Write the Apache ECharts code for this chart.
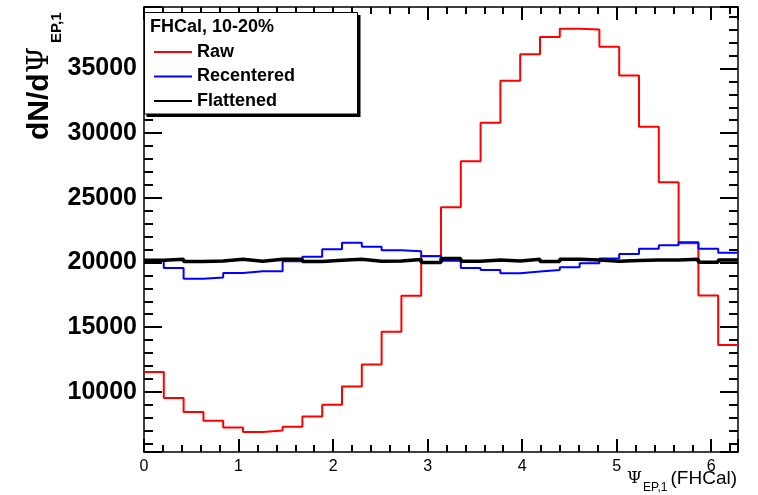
<!DOCTYPE html>
<html>
<head>
<meta charset="utf-8">
<script src="https://cdn.jsdelivr.net/npm/echarts@6/dist/echarts.min.js"></script>
<style>
html,body{margin:0;padding:0;background:#fff;}
#chart{width:758px;height:495px;}
</style>
</head>
<body>
<div id="chart"></div>
<script>
// ---- data ----
const binCount = 30;
const xMin = 0;
const xMax = 2 * Math.PI;
const xTickLabels = ['0', '1', '2', '3', '4', '5', '6'];
const yTickLabels = ['10000', '15000', '20000', '25000', '30000', '35000'];
const seriesNames = ['Raw', 'Recentered', 'Flattened'];
const rawCounts = [11530, 9520, 8440, 7760, 7250, 6890, 7020, 7300, 8100, 9000,
  10410, 12110, 14640, 17420, 20510, 24270, 27820, 30800, 34040, 36100,
  37440, 38060, 38010, 36670, 34460, 30490, 26200, 21490, 17440, 13630];
const recenteredCounts = [20140, 19580, 18750, 18830, 19190, 19320, 19320, 20100, 20450, 21020,
  21530, 21220, 20950, 20870, 20480, 20140, 19580, 19420, 19170, 19300,
  19420, 19630, 19940, 20300, 20660, 21070, 21330, 21560, 21070, 20760];
const flattenedCounts = [20170, 20250, 20070, 20120, 20250, 20100, 20250, 20250, 20070, 20170,
  20250, 20100, 20120, 20230, 19990, 20300, 20100, 20200, 20120, 20250,
  20070, 20250, 20200, 20100, 20150, 20200, 20200, 20250, 20020, 20200];
const yMin = 5350;
const yMax = 39750;

// histogram step data: bin low edges + final upper edge
function histData(counts) {
  const w = (xMax - xMin) / binCount;
  const d = counts.map((v, i) => [xMin + i * w, v]);
  d.push([xMax, counts[counts.length - 1]]);
  return d;
}

const FONT = 'Liberation Sans, Arial, Helvetica, sans-serif';
const chart = echarts.init(document.getElementById('chart'), null, {renderer: 'canvas'});

const xCommon = {
  type: 'value', min: xMin, max: xMax, interval: 1,
  axisLine: {show: true, onZero: false, lineStyle: {color: '#000', width: 1.5}},
  axisTick: {show: true, inside: true, length: 13, lineStyle: {color: '#000', width: 2}},
  minorTick: {show: true, splitNumber: 5, length: 7, lineStyle: {color: '#000', width: 2}},
  splitLine: {show: false}
};
const yCommon = {
  type: 'value', min: yMin, max: yMax,
  axisLine: {show: true, onZero: false, lineStyle: {color: '#000', width: 1.5}},
  axisTick: {show: true, inside: true, length: 18, lineStyle: {color: '#000', width: 2}},
  minorTick: {show: true, splitNumber: 5, length: 9, lineStyle: {color: '#000', width: 2}},
  splitLine: {show: false}
};

chart.setOption({
  animation: false,
  backgroundColor: '#fff',
  grid: {left: 144, right: 20, top: 7, bottom: 43, containLabel: false},
  xAxis: [
    Object.assign({}, xCommon, {
      position: 'bottom',
      axisLabel: {
        show: true, margin: 7, color: '#000', fontFamily: FONT, fontSize: 16,
        showMaxLabel: false,
        formatter: v => { const s = String(v); return xTickLabels.indexOf(s) >= 0 ? s : ''; }
      }
    }),
    Object.assign({}, xCommon, {position: 'top', axisLabel: {show: false}})
  ],
  yAxis: [
    Object.assign({}, yCommon, {
      position: 'left',
      axisLabel: {
        show: true, margin: 7, color: '#000', fontFamily: FONT, fontSize: 25, fontWeight: 'bold',
        showMinLabel: false, showMaxLabel: false,
        formatter: v => { const s = String(v); return yTickLabels.indexOf(s) >= 0 ? s : ''; }
      }
    }),
    Object.assign({}, yCommon, {position: 'right', axisLabel: {show: false}})
  ],
  legend: {
    show: true, orient: 'vertical', left: 153, top: 43, padding: 0,
    itemWidth: 38, itemHeight: 14, itemGap: 6.5, z: 12,
    data: seriesNames,
    itemStyle: {opacity: 0},
    textStyle: {fontFamily: FONT, fontSize: 18, fontWeight: 'bold', color: '#000'}
  },
  series: [
    {name: seriesNames[0], type: 'line', step: 'end', symbol: 'none', showSymbol: false,
     xAxisIndex: 0, yAxisIndex: 0, data: histData(rawCounts),
     lineStyle: {color: '#ff0000', width: 2}, itemStyle: {color: '#ff0000'}},
    {name: seriesNames[1], type: 'line', step: 'end', symbol: 'none', showSymbol: false,
     xAxisIndex: 0, yAxisIndex: 0, data: histData(recenteredCounts),
     lineStyle: {color: '#0000ff', width: 2}, itemStyle: {color: '#0000ff'}},
    {name: seriesNames[2], type: 'line', step: 'end', symbol: 'none', showSymbol: false,
     xAxisIndex: 0, yAxisIndex: 0, data: histData(flattenedCounts),
     lineStyle: {color: '#000000', width: 3.5}, itemStyle: {color: '#000000'}}
  ],
  graphic: [
    // legend box shadow + box
    {type: 'rect', z: 3, shape: {x: 146.5, y: 15, width: 214, height: 102}, style: {fill: '#000'}},
    {type: 'rect', z: 3, shape: {x: 144.5, y: 12.5, width: 213, height: 101.5},
     style: {fill: '#fff', stroke: '#000', lineWidth: 1}},
    {type: 'text', z: 12, x: 150, y: 27,
     style: {text: 'FHCal, 10-20%', font: 'bold 18px ' + FONT, fill: '#000', verticalAlign: 'middle', align: 'left'}},
    // x-axis title
    {type: 'text', z: 12, x: 737, y: 479,
     style: {text: '(FHCal)', font: '19px ' + FONT, fill: '#000', verticalAlign: 'middle', align: 'right'}},
    {type: 'text', z: 12, x: 627, y: 479,
     style: {text: 'Ψ', font: '17px DejaVu Serif, serif', fill: '#000', verticalAlign: 'middle', align: 'left'}},
    {type: 'text', z: 12, x: 643, y: 488,
     style: {text: 'EP,1', font: '12px ' + FONT, fill: '#000', verticalAlign: 'middle', align: 'left'}},
    // y-axis title (rotated)
    {type: 'text', z: 12, x: 40, y: 47, rotation: Math.PI / 2,
     style: {
       text: '{b|dN/d}{p|Ψ}', fill: '#000', verticalAlign: 'middle', align: 'right',
       rich: {
         b: {font: 'bold 30px ' + FONT, fill: '#000'},
         p: {font: '30px DejaVu Serif, serif', fill: '#000'}
       }
     }},
    {type: 'text', z: 12, x: 57, y: 43, rotation: Math.PI / 2,
     style: {text: 'EP,1', font: 'bold 15px ' + FONT, fill: '#000', verticalAlign: 'middle', align: 'left'}}
  ]
});
</script>
</body>
</html>
